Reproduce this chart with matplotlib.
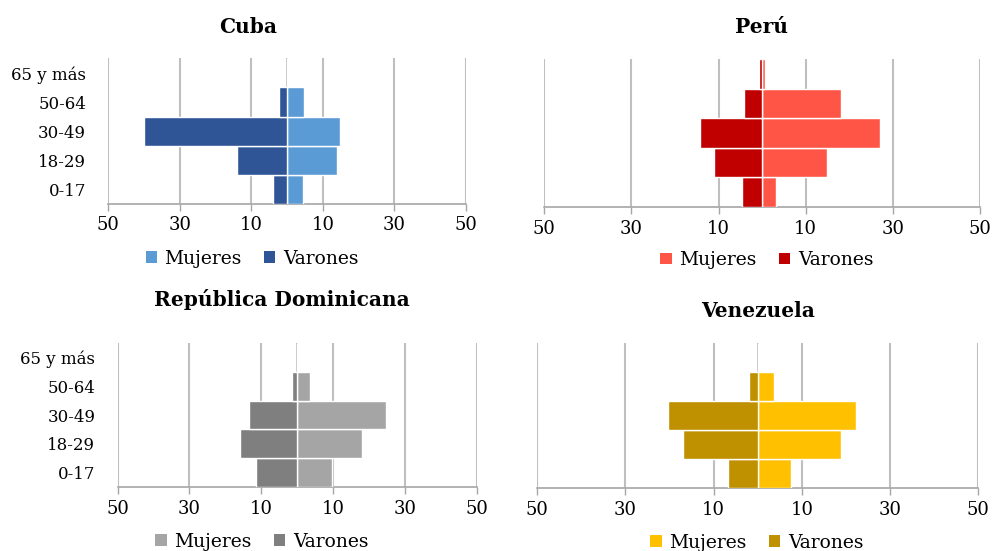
#!/usr/bin/env python3
"""========================================================================
Purpose:
    Population pyramids by sex for four countries (Cuba, Peru, Dominican
    Republic, Venezuela).
========================================================================"""
#=========================================================================#
# Python packages                                                         #
#=========================================================================#
import matplotlib
matplotlib.use('Agg')
import matplotlib.pyplot as plt
from matplotlib.patches import Patch
#=========================================================================#
# Data (percent of each group)                                            #
#=========================================================================#
ages            = ['0-17', '18-29', '30-49', '50-64', '65 y más']

cuba_mujeres    = [4.4, 14.0, 14.7, 4.7, 0.0]
cuba_varones    = [4.0, 13.9, 40.1, 2.3, 0.0]

peru_mujeres    = [3.2, 14.8, 27.1, 18.1, 0.6]
peru_varones    = [4.7, 11.0, 14.2, 4.1, 0.8]

rd_mujeres      = [9.8, 18.0, 24.8, 3.5, 0.0]
rd_varones      = [11.4, 15.9, 13.5, 1.3, 0.0]

ven_mujeres     = [7.5, 18.9, 22.2, 3.6, 0.0]
ven_varones     = [6.7, 16.9, 20.4, 2.0, 0.0]

xticks          = [-50, -30, -10, 10, 30, 50]
xticklabels     = ['50', '30', '10', '10', '30', '50']
#=========================================================================#
# Main                                                                    #
#=========================================================================#
if __name__ == '__main__':
    plt.rcParams['font.family'] = ['DejaVu Serif']
    fig = plt.figure(figsize=(9.92, 5.51), dpi=100)
    grid_c = '#BFBFBF'
    axis_c = '#A6A6A6'
    #---------------------------------------------------------------------#
    # Panels: title, data, colours, axes box, title pos, legend pos       #
    #---------------------------------------------------------------------#
    panels = [
        ('Cuba', cuba_mujeres, cuba_varones, '#5B9BD5', '#2F5597',
            [0.1092, 0.6298, 0.3606, 0.2644], (0.250, 0.951),
            (0.254, 0.530), True),
        ('Perú', peru_mujeres, peru_varones, '#FF5546', '#C00000',
            [0.5487, 0.6243, 0.4392, 0.2680], (0.768, 0.951),
            (0.773, 0.528), False),
        ('República Dominicana', rd_mujeres, rd_varones, '#A5A5A5',
            '#7F7F7F', [0.1186, 0.1156, 0.3619, 0.2624], (0.284, 0.456),
            (0.264, 0.017), True),
        ('Venezuela', ven_mujeres, ven_varones, '#FFC000', '#BF9000',
            [0.5416, 0.1138, 0.4446, 0.2632], (0.764, 0.436),
            (0.763, 0.015), False),
    ]
    for title, muj, var, c_m, c_v, box, tpos, lpos, show_y in panels:
        ax = fig.add_axes(box)
        pos = range(len(ages))
        ax.barh(pos, muj, height=1.0, color=c_m, edgecolor='white',
                linewidth=1.0, zorder=3)
        ax.barh(pos, [-v for v in var], height=1.0, color=c_v,
                edgecolor='white', linewidth=1.0, zorder=3)
        ax.axvline(0, color=axis_c, lw=1.2, zorder=2)
        for xt in xticks:
            ax.axvline(xt, color=grid_c, lw=1.5, zorder=1)
        ax.set_xlim(-50, 50)
        ax.set_ylim(-0.5, len(ages) - 0.5)
        ax.set_xticks(xticks)
        ax.set_xticklabels(xticklabels, fontsize=13)
        ax.tick_params(axis='x', length=5, width=1, color=axis_c, pad=4)
        ax.set_yticks(list(pos))
        if show_y:
            ax.set_yticklabels(ages, fontsize=12)
        else:
            ax.set_yticklabels([])
        ax.tick_params(axis='y', length=0, pad=16)
        for s in ['top', 'right', 'left']:
            ax.spines[s].set_visible(False)
        ax.spines['bottom'].set_color(axis_c)
        ax.spines['bottom'].set_linewidth(1.2)
        fig.text(tpos[0], tpos[1], title, ha='center', va='center',
                 fontsize=14.5, fontweight='bold')
        handles = [Patch(facecolor=c_m, label='Mujeres'),
                   Patch(facecolor=c_v, label='Varones')]
        fig.legend(handles=handles, loc='center', ncol=2,
                   bbox_to_anchor=lpos, bbox_transform=fig.transFigure,
                   frameon=False, fontsize=13.5, handlelength=0.6,
                   handleheight=0.6, handletextpad=0.4, columnspacing=1.2,
                   borderpad=0.0)

    plt.savefig('out.png', dpi=100)
